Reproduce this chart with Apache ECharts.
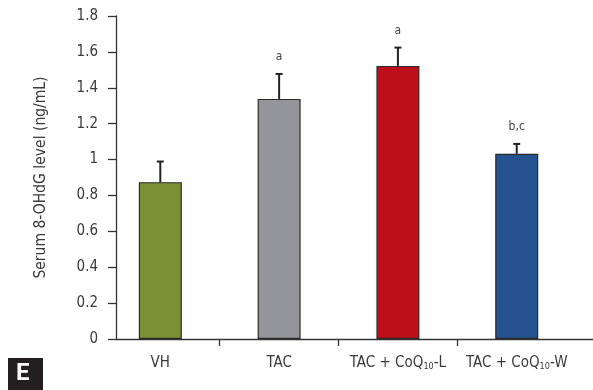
<!DOCTYPE html>
<html><head><meta charset="utf-8">
<script src="https://cdn.jsdelivr.net/npm/echarts@6/dist/echarts.min.js"></script>
<style>html,body{margin:0;padding:0;background:#fff}#c{width:593px;height:390px}</style>
</head><body><div id="c"></div>
<script>
const categories = ['VH', 'TAC', 'TAC + CoQ{sub|10}-L', 'TAC + CoQ{sub|10}-W'];
const means = [0.874, 1.338, 1.522, 1.032];
const errors = [0.115, 0.139, 0.102, 0.055];
const annotations = ['', 'a', 'a', 'b,c'];
const barColors = ['#7a9233', '#949599', '#bd0f1a', '#24538f'];
const yTicks = [0, 0.2, 0.4, 0.6, 0.8, 1, 1.2, 1.4, 1.6, 1.8];

const FONT = "'DejaVu Sans Condensed', 'Liberation Sans Narrow', sans-serif";
const chart = echarts.init(document.getElementById('c'), null, {renderer: 'canvas'});
const idx = categories.map((_, i) => i);
chart.setOption({
  animation: false,
  grid: {left: 116, right: 0, top: 16, bottom: 51},
  xAxis: {
    type: 'value', min: -0.373, max: 3.642,
    axisLine: {show: true, onZero: false, lineStyle: {color: '#333', width: 1.3}},
    splitLine: {show: false},
    axisTick: {show: true, customValues: [0.5, 1.5, 2.5], length: 7, lineStyle: {color: '#333', width: 1.3}},
    axisLabel: {
      customValues: idx, margin: 17, color: '#3a3a3a', fontFamily: FONT, fontSize: 15,
      formatter: v => categories[Math.round(v)],
      rich: {sub: {fontSize: 9, verticalAlign: 'bottom', padding: [6, 0, 0, 0], fontFamily: FONT, color: '#3a3a3a'}}
    }
  },
  yAxis: {
    type: 'value', min: 0, max: 1.8, interval: 0.2,
    name: 'Serum 8-OHdG level (ng/mL)', nameLocation: 'middle', nameGap: 67, nameRotate: 90,
    nameTextStyle: {color: '#3a3a3a', fontFamily: FONT, fontSize: 15.5},
    axisLine: {show: true, onZero: false, lineStyle: {color: '#333', width: 1.3}},
    axisTick: {show: true, length: 8, lineStyle: {color: '#333', width: 1.3}},
    splitLine: {show: false},
    axisLabel: {color: '#3a3a3a', fontFamily: FONT, fontSize: 15, margin: 18,
      formatter: v => String(yTicks.find(t => Math.abs(t - v) < 1e-6) ?? v)}
  },
  series: [
    {
      type: 'bar', barWidth: 43,
      data: means.map((v, i) => ({value: [i, v], itemStyle: {color: barColors[i]}})),
      itemStyle: {borderColor: '#2a2a2a', borderWidth: 1.2}
    },
    {
      type: 'custom', z: 5,
      data: means.map((v, i) => [i, v, errors[i]]),
      renderItem: (params, api) => {
        const i = api.value(0), v = api.value(1), e = api.value(2);
        const p0 = api.coord([i, v]);
        const p1 = api.coord([i, v + e]);
        const cap = 3.5;
        const children = [
          {type: 'line', shape: {x1: p0[0], y1: p0[1], x2: p1[0], y2: p1[1]}, style: {stroke: '#222', lineWidth: 2}},
          {type: 'line', shape: {x1: p1[0] - cap, y1: p1[1], x2: p1[0] + cap, y2: p1[1]}, style: {stroke: '#222', lineWidth: 2}}
        ];
        const t = annotations[params.dataIndex];
        if (t) children.push({type: 'text', x: p1[0], y: p1[1] - 17,
          style: {text: t, fill: '#444', font: '12px ' + FONT, align: 'center', verticalAlign: 'middle'}});
        return {type: 'group', children};
      }
    }
  ],
  graphic: [
    {type: 'rect', left: 8, top: 358, shape: {width: 35, height: 32}, style: {fill: '#231f20'}},
    {type: 'text', left: 16, top: 362, style: {text: 'E', fill: '#fff', font: 'bold 24px Roboto, sans-serif'}}
  ]
});
</script></body></html>
